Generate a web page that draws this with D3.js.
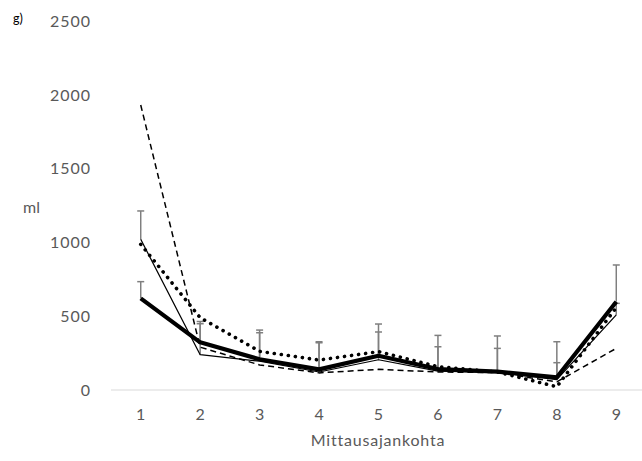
<!DOCTYPE html>
<html>
<head>
<meta charset="utf-8">
<script src="https://cdn.jsdelivr.net/npm/d3@7"></script>
<style>
  html, body { margin: 0; padding: 0; background: #fff; }
  svg { display: block; }
  text { font-family: Lato, "Open Sans", "Liberation Sans", sans-serif; }
</style>
</head>
<body>
<svg id="chart" width="642" height="461"></svg>
<script>
// ---- data ----
const categories = ["1", "2", "3", "4", "5", "6", "7", "8", "9"];
const yTicks = [0, 500, 1000, 1500, 2000, 2500];
const seriesThick  = [621, 323, 208, 140, 232, 142, 125, 86, 598];
const seriesThin   = [1021, 239, 195, 122, 205, 128, 120, 70, 509];
const seriesDashed = [1931, 290, 170, 116, 140, 122, 118, 55, 282];
const seriesDotted = [987, 490, 262, 203, 260, 158, 122, 22, 558];
const errThickUpper = [734, 464, 406, 327, 447, 370, 366, 327, 847];
const errThinUpper  = [1213, 449, 388, 320, 393, 293, 282, 185, 587];
const panelLabel = "g)";
const yAxisTitle = "ml";
const xAxisTitle = "Mittausajankohta";

// ---- setup ----
const svg = d3.select("#chart");
const x = d3.scalePoint().domain(categories).range([111, 646]).padding(0.5);
const y = d3.scaleLinear().domain([0, 2500]).range([390, 21]);
const textColor = "#595959";

// baseline gridline
svg.append("line")
  .attr("x1", 111).attr("x2", 642)
  .attr("y1", y(0)).attr("y2", y(0))
  .attr("stroke", "#d9d9d9").attr("stroke-width", 1);

// y axis labels
svg.append("g").selectAll("text").data(yTicks).join("text")
  .attr("x", 91).attr("y", d => y(d))
  .attr("dy", "0.36em")
  .attr("text-anchor", "end")
  .attr("font-size", 16)
  .attr("letter-spacing", 1)
  .attr("fill", textColor)
  .text(d => d);

// x axis labels
svg.append("g").selectAll("text").data(categories).join("text")
  .attr("x", d => x(d)).attr("y", 414)
  .attr("dy", "0.36em")
  .attr("text-anchor", "middle")
  .attr("font-size", 16)
  .attr("fill", textColor)
  .text(d => d);

// titles
svg.append("text").attr("x", 378).attr("y", 446)
  .attr("text-anchor", "middle").attr("font-size", 16)
  .attr("letter-spacing", 0.8)
  .attr("fill", textColor).text(xAxisTitle);
svg.append("text").attr("x", 23).attr("y", 213)
  .attr("font-size", 16).attr("fill", textColor).text(yAxisTitle);
svg.append("text").attr("x", 13).attr("y", 23)
  .attr("font-size", 12.5).attr("fill", "#000").text(panelLabel);

// error bars
function errorBars(vals, uppers) {
  const g = svg.append("g").attr("stroke", "#7f7f7f").attr("stroke-width", 1.5);
  categories.forEach((c, i) => {
    const cx = x(c);
    g.append("line").attr("x1", cx).attr("x2", cx)
      .attr("y1", y(vals[i])).attr("y2", y(uppers[i]));
    g.append("line").attr("x1", cx - 3.5).attr("x2", cx + 3.5)
      .attr("y1", y(uppers[i])).attr("y2", y(uppers[i]));
  });
}
errorBars(seriesThick, errThickUpper);
errorBars(seriesThin, errThinUpper);

// lines
const line = d3.line().x((d, i) => x(categories[i])).y(d => y(d));
function drawLine(vals, width, dash, cap) {
  svg.append("path").datum(vals)
    .attr("d", line)
    .attr("fill", "none")
    .attr("stroke", "#000")
    .attr("stroke-width", width)
    .attr("stroke-dasharray", dash)
    .attr("stroke-linecap", cap)
    .attr("stroke-linejoin", "round");
}
drawLine(seriesDashed, 1.5, "6 4", "butt");
drawLine(seriesThin, 1.25, null, "butt");
drawLine(seriesDotted, 3.6, "0.1 7", "round");
drawLine(seriesThick, 4.2, null, "butt");
</script>
</body>
</html>
